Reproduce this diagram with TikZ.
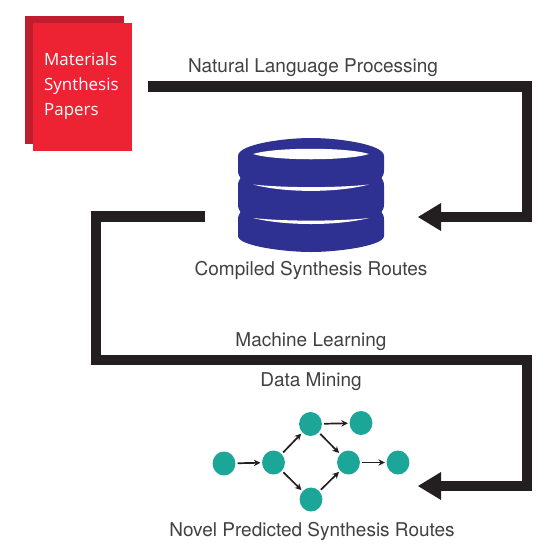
\documentclass[tikz,border=0pt]{standalone}
\usepackage{fontspec}
\setmainfont{TeX Gyre Heros}
\newfontfamily\paperfont{Open Sans}
\usetikzlibrary{arrows.meta,shapes.geometric}
\definecolor{wirek}{HTML}{231F20}
\definecolor{redfront}{HTML}{ED2233}
\definecolor{redback}{HTML}{BE1E2D}
\definecolor{dbblue}{HTML}{2E3192}
\definecolor{teal}{HTML}{1BA698}
\definecolor{txt}{HTML}{414042}
\tikzset{
 wire/.style={draw=wirek,line width=10.6pt,line join=miter},
 head/.style={fill=wirek,draw=none},
 lab/.style={text=txt,font=\fontsize{19pt}{22pt}\selectfont,inner sep=0pt},
 rn/.style={ellipse,fill=teal,draw=none,minimum width=22.8pt,minimum height=24pt,inner sep=0pt},
 thinarrow/.style={draw=wirek,line width=1.7pt,-{Stealth[length=6.5pt,width=6.5pt]},shorten >=1.5pt,shorten <=2pt},
}
\begin{document}
\begin{tikzpicture}[x=1pt,y=-1pt]
\useasboundingbox (0,0) rectangle (560,550);
\fill[white] (0,0) rectangle (560,550);
% papers
\fill[redback] (24.5,15.5) rectangle (123.5,143.5);
\fill[redfront] (33,22.5) rectangle (131.5,150.5);
\node[text=white,font=\paperfont\fontsize{16.9pt}{25pt}\selectfont,align=left,anchor=north west,inner sep=0pt] (papers) at (44,52) {Materials\\Synthesis\\Papers};
% database
\fill[dbblue] (238,156) .. controls (238,144) and (285,138) .. (311,138) .. controls (337,138) and (384,144) .. (384,156)
 -- (384,170) .. controls (384,174) and (383,176) .. (381.5,178) .. controls (383,180) and (384,182) .. (384,186)
 -- (384,204) .. controls (384,208) and (383,210) .. (381.5,212) .. controls (383,214) and (384,216) .. (384,220)
 -- (384,236) .. controls (384,246) and (337,252) .. (311,252) .. controls (285,252) and (238,246) .. (238,236)
 -- (238,220) .. controls (238,216) and (239,214) .. (240.5,212) .. controls (239,210) and (238,208) .. (238,204)
 -- (238,186) .. controls (238,182) and (239,180) .. (240.5,178) .. controls (239,176) and (238,174) .. (238,170) -- cycle;
\fill[white] (253,154) .. controls (275,147) and (347,147) .. (369,154) .. controls (347,161) and (275,161) .. (253,154) -- cycle;
\fill[white] (253,184.5) .. controls (285,193) and (337,193) .. (369,184.5) .. controls (337,188) and (285,188) .. (253,184.5) -- cycle;
\fill[white] (253,218) .. controls (285,226) and (337,226) .. (369,218) .. controls (337,221.5) and (285,221.5) .. (253,218) -- cycle;
\node[lab] (db) at (311,270) {Compiled Synthesis Routes};
% top wire
\node[lab] (nlp) at (313,67.5) {Natural Language Processing};
\coordinate (w1s) at (148,86.2);
\coordinate (w1a) at (527,86.2);
\coordinate (w1b) at (527,217);
\coordinate (w1e) at (438,217);
\draw[wire] (w1s) -- (w1a) -- (w1b) -- (w1e);
\fill[head] (418,217) -- (441,203) -- (441,231) -- cycle;
% bottom wire
\node[lab] (ml) at (311,341.5) {Machine Learning};
\node[lab] (dm) at (311,382) {Data Mining};
\coordinate (w2s) at (205,216.5);
\coordinate (w2a) at (96,216.5);
\coordinate (w2b) at (96,359.8);
\coordinate (w2c) at (527,359.8);
\coordinate (w2d) at (527,486);
\coordinate (w2e) at (438,486);
\draw[wire] (w2s) -- (w2a) -- (w2b) -- (w2c) -- (w2d) -- (w2e);
\fill[head] (418,486) -- (441,472) -- (441,500) -- cycle;
% routes
\node[rn] (n1) at (224,463.5) {};
\node[rn] (n2) at (273.5,462.5) {};
\node[rn] (n3) at (310.5,424) {};
\node[rn] (n4) at (361,423) {};
\node[rn] (n5) at (348.5,462.5) {};
\node[rn] (n6) at (398,462.5) {};
\node[rn] (n7) at (311,499.5) {};
\draw[thinarrow] (n1) -- (n2);
\draw[thinarrow] (n2) -- (n3);
\draw[thinarrow] (n3) -- (n4);
\draw[thinarrow] (n3) -- (n5);
\draw[thinarrow] (n2) -- (n7);
\draw[thinarrow] (n7) -- (n5);
\draw[thinarrow] (n5) -- (n6);
\node[lab] (novel) at (312,531) {Novel Predicted Synthesis Routes};
\end{tikzpicture}
\end{document}
